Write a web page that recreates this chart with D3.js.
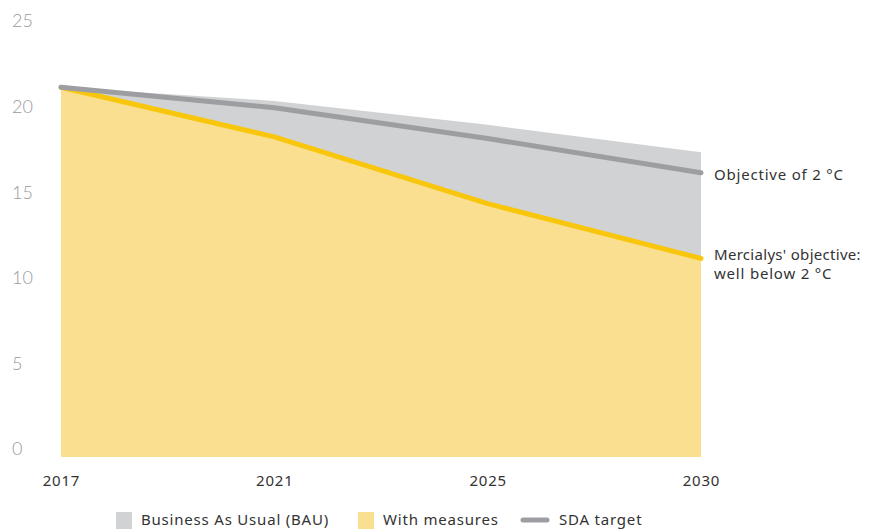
<!DOCTYPE html>
<html><head><meta charset="utf-8">
<script src="https://cdn.jsdelivr.net/npm/d3@7"></script>
<style>
body{margin:0;background:#fff;}
text{font-family:"Noto Sans",sans-serif;}
</style></head>
<body><svg id="c" width="869" height="529"></svg>
<script>
const years = ["2017","2021","2025","2030"];
const bau = [21.6, 20.8, 19.4, 17.8];
const measures = [21.6, 18.7, 14.8, 11.6];
const sda = [21.6, 20.4, 18.6, 16.6];
const yTicks = [0,5,10,15,20,25];
const legendItems = ["Business As Usual (BAU)","With measures","SDA target"];

const svg = d3.select("#c");
const x = d3.scalePoint().domain(years).range([61, 701]);
const y = d3.scaleLinear().domain([0,25]).range([457, 29]);

const data = years.map((yr,i)=>({yr, bau:bau[i], m:measures[i], s:sda[i]}));

// y tick labels
svg.append("g").selectAll("text").data(yTicks).join("text")
  .attr("x", 12).attr("y", d=>y(d)-8).attr("dy","0.35em")
  .attr("font-size", 18).attr("font-weight", 300).attr("fill","#9a9a9a")
  .style("font-family","Lato,sans-serif")
  .text(d=>d);

// x axis labels
const xAxis = d3.axisBottom(x).tickSize(0).tickPadding(0);
const gx = svg.append("g").attr("transform","translate(0,475)").call(xAxis);
gx.select(".domain").remove();
gx.selectAll("text").attr("font-size",15).attr("fill","#333").attr("dy","0.71em")
  .attr("letter-spacing","0.8px")
  .style("font-family","'Noto Sans',sans-serif");

// areas
const areaB = d3.area().x(d=>x(d.yr)).y0(y(0)).y1(d=>y(d.bau));
const areaM = d3.area().x(d=>x(d.yr)).y0(y(0)).y1(d=>y(d.m));
svg.append("path").datum(data).attr("d",areaB).attr("fill","#d1d2d4");
svg.append("path").datum(data).attr("d",areaM).attr("fill","#f9df8f");

// lines
const lineS = d3.line().x(d=>x(d.yr)).y(d=>y(d.s));
const lineM = d3.line().x(d=>x(d.yr)).y(d=>y(d.m));
svg.append("path").datum(data).attr("d",lineM).attr("fill","none")
  .attr("stroke","#f8c70d").attr("stroke-width",5).attr("stroke-linecap","round").attr("stroke-linejoin","round");
svg.append("path").datum(data).attr("d",lineS).attr("fill","none")
  .attr("stroke","#9d9ea2").attr("stroke-width",5).attr("stroke-linecap","round").attr("stroke-linejoin","round");

// annotations
const ann = svg.append("g").attr("font-size",15).attr("fill","#333").attr("letter-spacing","0.8px");
ann.append("text").attr("x",714).attr("y",175).attr("dy","0.35em").attr("fill","#333").text("Objective of 2 °C");
ann.append("text").attr("x",714).attr("y",255).attr("dy","0.35em").attr("fill","#333")
  .attr("letter-spacing","0.3px").text("Mercialys' objective:");
ann.append("text").attr("x",714).attr("y",274).attr("dy","0.35em").attr("fill","#333").text("well below 2 °C");

// legend
const lg = svg.append("g").attr("font-size",15).attr("fill","#333").attr("letter-spacing","0.8px");
lg.append("rect").attr("x",116).attr("y",512).attr("width",16).attr("height",17).attr("fill","#d1d2d4");
lg.append("text").attr("x",141).attr("y",520).attr("dy","0.35em").attr("fill","#333").text(legendItems[0]);
lg.append("rect").attr("x",358).attr("y",512).attr("width",16).attr("height",17).attr("fill","#f9df8f");
lg.append("text").attr("x",383).attr("y",520).attr("dy","0.35em").attr("fill","#333").text(legendItems[1]);
lg.append("line").attr("x1",523).attr("x2",547).attr("y1",520).attr("y2",520)
  .attr("stroke","#9d9ea2").attr("stroke-width",5).attr("stroke-linecap","round");
lg.append("text").attr("x",559).attr("y",520).attr("dy","0.35em").attr("fill","#333").text(legendItems[2]);
</script></body></html>
